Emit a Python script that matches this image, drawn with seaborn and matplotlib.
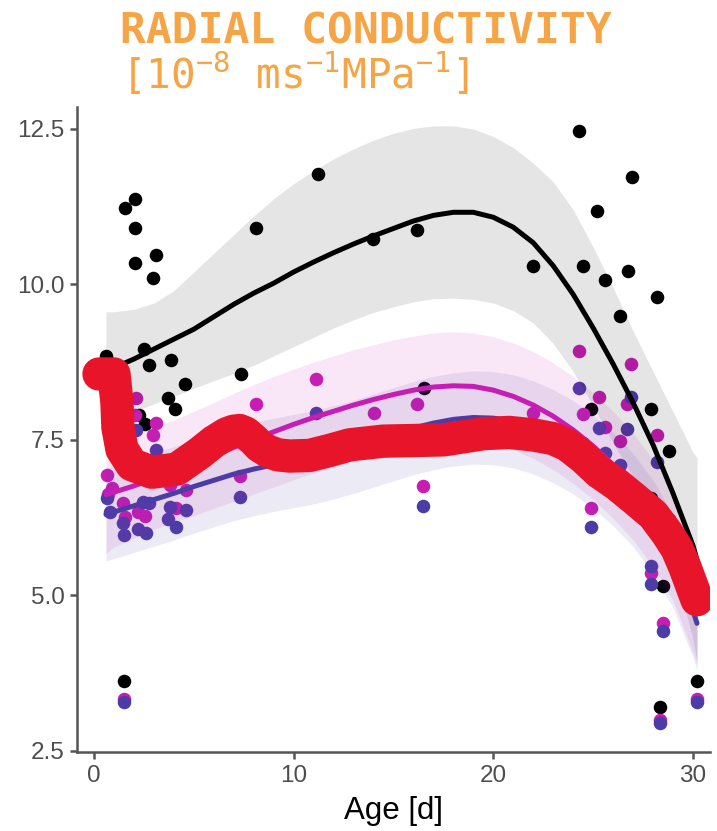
import numpy as np
import pandas as pd
import matplotlib
matplotlib.use("Agg")
import matplotlib.pyplot as plt
import seaborn as sns

# scatter data (age in days, radial conductivity)
black_x = [0.6, 1.5, 1.55, 2.05, 2.05, 2.05, 2.25, 2.5, 2.55, 2.75, 2.95, 3.1, 3.7, 3.85, 4.05, 4.55,
           7.35, 8.1, 11.2, 13.95, 16.2, 16.55, 22.0, 24.3, 24.5, 24.9, 25.2, 25.6, 26.35, 26.75,
           26.95, 27.9, 27.9, 28.2, 28.35, 28.5, 28.8, 30.2]
black_y = [8.85, 3.63, 11.23, 11.37, 10.9, 10.35, 7.9, 8.96, 7.76, 8.7, 10.1, 10.47, 8.17, 8.79, 8.0, 8.4,
           8.56, 10.9, 11.78, 10.73, 10.88, 8.34, 10.3, 12.47, 10.3, 8.0, 11.18, 10.07, 9.49, 10.22,
           11.73, 8.0, 6.57, 9.8, 3.21, 5.15, 7.32, 3.63]

mag_x = [0.65, 0.7, 0.9, 1.45, 1.5, 1.55, 2.05, 2.1, 2.2, 2.55, 2.95, 3.1, 3.8, 4.1, 4.6,
         7.3, 8.1, 11.1, 14.0, 16.2, 16.5, 22.0, 24.3, 24.5, 24.9, 25.3, 25.6, 26.35, 26.7,
         26.9, 27.9, 27.9, 28.2, 28.35, 28.5, 28.8, 30.2]
mag_y = [6.94, 6.63, 6.73, 6.49, 3.33, 6.26, 7.9, 8.18, 6.34, 6.28, 7.58, 7.77, 6.78, 6.4, 6.7,
         6.92, 8.08, 8.48, 7.93, 8.08, 6.76, 7.93, 8.93, 7.91, 6.41, 8.19, 7.71, 7.48, 8.08,
         8.72, 6.5, 5.36, 7.58, 3.0, 4.56, 6.23, 3.34]

pur_x = [0.65, 0.8, 1.45, 1.5, 1.5, 2.1, 2.2, 2.45, 2.6, 2.75, 3.1, 3.7, 3.8, 4.1, 4.6,
         7.3, 8.1, 11.1, 14.0, 16.2, 16.5, 22.0, 24.3, 24.5, 24.9, 25.3, 25.6, 26.35, 26.7,
         26.9, 27.9, 27.9, 28.2, 28.35, 28.5, 28.8, 30.2]
pur_y = [6.57, 6.34, 6.17, 5.97, 3.28, 7.66, 6.07, 6.5, 6.0, 6.49, 7.34, 6.23, 6.42, 6.1, 6.38,
         6.58, 7.63, 7.93, 7.45, 7.6, 6.44, 7.5, 8.33, 7.45, 6.1, 7.69, 7.29, 7.1, 7.68,
         8.19, 5.47, 5.18, 7.15, 2.95, 4.43, 5.9, 3.28]

# smoothed trends with confidence bands (1-day steps)
fit_x = [0.6, 1, 2, 3, 4, 5, 6, 7, 8, 9, 10, 11, 12, 13, 14, 15, 16, 17, 18, 19, 20,
         21, 22, 23, 24, 25, 26, 27, 28, 29, 30, 30.2]
black_fit = [8.6, 8.66, 8.8, 8.96, 9.12, 9.28, 9.48, 9.68, 9.86, 10.02, 10.2,
             10.36, 10.51, 10.65, 10.78, 10.9, 11.02, 11.11, 11.16, 11.16, 11.08,
             10.92, 10.67, 10.3, 9.84, 9.3, 8.72, 8.1, 7.42, 6.64, 5.8, 5.57]
black_hi = [9.56, 9.56, 9.6, 9.7, 9.9, 10.2, 10.5, 10.8, 11.1, 11.38, 11.62,
            11.83, 12.02, 12.18, 12.32, 12.43, 12.51, 12.55, 12.55, 12.5, 12.38,
            12.2, 11.95, 11.65, 11.2, 10.6, 9.95, 9.25, 8.6, 7.95, 7.3, 7.21]
black_lo = [7.8, 7.85, 7.95, 8.08, 8.2, 8.33, 8.45, 8.57, 8.7, 8.85, 9.0,
            9.15, 9.3, 9.43, 9.55, 9.64, 9.72, 9.77, 9.78, 9.76, 9.7,
            9.58, 9.38, 9.05, 8.6, 8.05, 7.45, 6.9, 6.3, 5.5, 4.3, 3.93]
mag_fit = [6.62, 6.66, 6.76, 6.88, 7.0, 7.12, 7.25, 7.38, 7.51, 7.63, 7.75,
           7.86, 7.96, 8.06, 8.15, 8.23, 8.3, 8.35, 8.37, 8.36, 8.3,
           8.2, 8.06, 7.88, 7.66, 7.4, 7.1, 6.75, 6.32, 5.78, 4.95, 4.75]
mag_hi = [7.57, 7.55, 7.6, 7.7, 7.82, 7.96, 8.1, 8.25, 8.39, 8.52, 8.64,
          8.75, 8.85, 8.95, 9.03, 9.11, 9.17, 9.22, 9.24, 9.22, 9.16,
          9.06, 8.92, 8.74, 8.52, 8.26, 7.96, 7.61, 7.18, 6.64, 5.82, 5.62]
mag_lo = [5.67, 5.78, 5.92, 6.06, 6.18, 6.28, 6.4, 6.51, 6.63, 6.74, 6.86,
          6.97, 7.07, 7.17, 7.27, 7.35, 7.43, 7.48, 7.5, 7.5, 7.44,
          7.34, 7.2, 7.02, 6.8, 6.54, 6.24, 5.89, 5.46, 4.92, 4.08, 3.88]
pur_fit = [6.3, 6.34, 6.44, 6.54, 6.64, 6.75, 6.85, 6.95, 7.03, 7.1, 7.16,
           7.22, 7.3, 7.39, 7.49, 7.59, 7.69, 7.77, 7.83, 7.86, 7.85,
           7.8, 7.7, 7.56, 7.38, 7.15, 6.87, 6.53, 6.1, 5.55, 4.75, 4.55]
pur_hi = [7.05, 7.09, 7.19, 7.29, 7.39, 7.5, 7.6, 7.7, 7.78, 7.85, 7.91,
          7.97, 8.05, 8.14, 8.24, 8.34, 8.44, 8.52, 8.58, 8.61, 8.6,
          8.55, 8.45, 8.31, 8.13, 7.9, 7.62, 7.28, 6.85, 6.3, 5.5, 5.3]
pur_lo = [5.55, 5.59, 5.69, 5.79, 5.89, 6.0, 6.1, 6.2, 6.28, 6.35, 6.41,
          6.47, 6.55, 6.64, 6.74, 6.84, 6.94, 7.02, 7.08, 7.11, 7.1,
          7.05, 6.95, 6.81, 6.63, 6.4, 6.12, 5.78, 5.35, 4.8, 4.0, 3.8]

# the thick red overlay line
red_x = [0.25, 1.0, 1.15, 1.2, 1.4, 1.9, 2.9, 4.15, 5.3, 6.0, 6.65, 7.0, 7.3, 7.6, 8.0, 8.3, 8.7,
         9.2, 9.8, 10.8, 11.8, 12.8, 14.5, 17.5, 19.5, 20.8, 22.0, 23.0, 23.7, 24.5, 25.3, 26.2,
         27.0, 28.0, 28.7, 29.2, 29.6, 30.2]
red_y = [8.56, 8.56, 8.1, 7.7, 7.35, 7.1, 6.98, 7.03, 7.29, 7.47, 7.6, 7.64, 7.65, 7.61, 7.5, 7.4,
         7.32, 7.26, 7.24, 7.25, 7.33, 7.42, 7.48, 7.5, 7.6, 7.62, 7.58, 7.52, 7.42, 7.22, 6.98,
         6.78, 6.57, 6.3, 6.0, 5.75, 5.45, 4.93]

BLACK = "#000000"
MAGENTA = "#C61DB4"
PURPLE = "#4C3CA6"
RED = "#E8152A"
ORANGE = "#F5A545"
AXIS = "#555555"

sns.set_theme(style="white")
plt.rcParams["font.family"] = ["Liberation Sans", "DejaVu Sans"]
plt.rcParams["mathtext.fontset"] = "custom"
plt.rcParams["mathtext.rm"] = "DejaVu Sans Mono"
plt.rcParams["mathtext.default"] = "regular"

fig = plt.figure(figsize=(7.17, 8.31), dpi=100)
ax = fig.add_axes([0.1074, 0.095, 0.8828, 0.776])

# points
for xs, ys, col in [(black_x, black_y, BLACK), (mag_x, mag_y, MAGENTA), (pur_x, pur_y, PURPLE)]:
    sns.scatterplot(x=xs, y=ys, color=col, s=95, linewidth=0, ax=ax, zorder=2)

# bands + smooth lines
for fit, lo, hi, col in [(black_fit, black_lo, black_hi, BLACK),
                         (mag_fit, mag_lo, mag_hi, MAGENTA),
                         (pur_fit, pur_lo, pur_hi, PURPLE)]:
    ax.fill_between(fit_x, lo, hi, color=col, alpha=0.1, linewidth=0, zorder=3)
    sns.lineplot(x=fit_x, y=fit, color=col, linewidth=3.6, ax=ax, zorder=4)

# red overlay
sns.lineplot(x=red_x, y=red_y, sort=False, estimator=None, color=RED, linewidth=24, ax=ax, zorder=5)
red_line = ax.get_lines()[-1]
red_line.set_solid_capstyle("round")
red_line.set_solid_joinstyle("round")

ax.set_xlim(-0.85, 30.85)
ax.set_ylim(2.48, 12.85)
ax.set_xticks([0, 10, 20, 30])
ax.set_yticks([2.5, 5.0, 7.5, 10.0, 12.5])
ax.set_yticklabels(["2.5", "5.0", "7.5", "10.0", "12.5"])

for side in ["top", "right"]:
    ax.spines[side].set_visible(False)
for side in ["left", "bottom"]:
    ax.spines[side].set_color(AXIS)
    ax.spines[side].set_linewidth(1.8)
ax.tick_params(axis="both", length=5, width=1.8, color=AXIS, labelcolor="#4d4d4d",
               labelsize=17.5, pad=4, left=True, bottom=True)

ax.set_xlabel("Age [d]", fontsize=22.5, color="black", labelpad=7)
ax.set_ylabel("")

fig.text(120 / 717, 1 - 43 / 831, "RADIAL CONDUCTIVITY", ha="left", va="baseline",
         family="DejaVu Sans Mono", weight="bold", fontsize=31, color=ORANGE)
fig.text(121 / 717, 1 - 89 / 831, r"[10$^{-8}$ ms$^{-1}$MPa$^{-1}$]", ha="left", va="baseline",
         family="DejaVu Sans Mono", fontsize=29.5, color=ORANGE)

fig.savefig("out.png", dpi=100)
